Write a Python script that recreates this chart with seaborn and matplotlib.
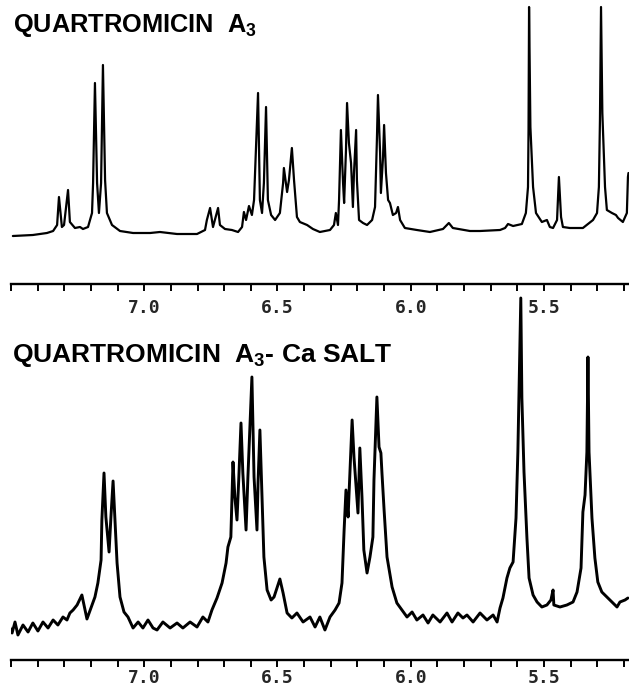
import matplotlib
matplotlib.use("Agg")
import matplotlib.pyplot as plt
import seaborn as sns

# ---------------- data (chemical shift in ppm, intensity in arbitrary units) ----------------
top_ppm = [7.493, 7.418, 7.365, 7.342, 7.327, 7.320, 7.309, 7.301, 7.286, 7.279,
           7.260, 7.241, 7.230, 7.211, 7.196, 7.192, 7.185, 7.177, 7.170, 7.162,
           7.155, 7.147, 7.140, 7.121, 7.091, 7.042, 6.978, 6.941, 6.877, 6.802,
           6.772, 6.765, 6.753, 6.742, 6.723, 6.716, 6.697, 6.671, 6.648, 6.633,
           6.626, 6.618, 6.607, 6.596, 6.588, 6.573, 6.566, 6.558, 6.551, 6.543,
           6.536, 6.524, 6.509, 6.491, 6.479, 6.476, 6.464, 6.457, 6.446, 6.438,
           6.427, 6.416, 6.389, 6.367, 6.341, 6.303, 6.288, 6.281, 6.273, 6.269,
           6.262, 6.254, 6.250, 6.243, 6.239, 6.232, 6.224, 6.217, 6.213, 6.205,
           6.202, 6.194, 6.179, 6.164, 6.145, 6.134, 6.127, 6.123, 6.115, 6.112,
           6.104, 6.100, 6.093, 6.085, 6.078, 6.067, 6.055, 6.048, 6.040, 6.022,
           5.977, 5.928, 5.879, 5.857, 5.842, 5.778, 5.740, 5.665, 5.646, 5.635,
           5.616, 5.583, 5.568, 5.560, 5.558, 5.556, 5.551, 5.541, 5.530, 5.508,
           5.489, 5.478, 5.466, 5.451, 5.444, 5.436, 5.429, 5.403, 5.354, 5.316,
           5.301, 5.294, 5.290, 5.286, 5.281, 5.271, 5.264, 5.245, 5.230, 5.222,
           5.204, 5.189, 5.185, 5.183]
top_int = [-1, 0, 2, 4, 10, 38, 8, 10, 45, 13,
           7, 8, 6, 8, 22, 52, 152, 52, 22, 52,
           170, 55, 22, 10, 4, 2, 2, 3, 1, 1,
           5, 15, 27, 8, 27, 10, 6, 5, 3, 8,
           23, 15, 29, 20, 35, 142, 35, 22, 52, 128,
           35, 20, 15, 22, 52, 67, 43, 55, 87, 55,
           18, 13, 10, 6, 3, 5, 10, 22, 10, 35,
           105, 52, 32, 85, 132, 92, 72, 28, 62, 105,
           55, 15, 12, 10, 15, 28, 95, 140, 82, 42,
           78, 110, 62, 35, 32, 20, 22, 28, 15, 7,
           5, 3, 6, 12, 7, 4, 4, 5, 7, 11,
           9, 11, 22, 48, 105, 228, 108, 48, 22, 13,
           15, 8, 7, 15, 58, 18, 8, 7, 7, 15,
           22, 48, 115, 228, 122, 48, 25, 22, 20, 17,
           13, 22, 58, 62]

bot_ppm = [7.505, 7.496, 7.485, 7.474, 7.455, 7.436, 7.418, 7.399, 7.380, 7.361,
           7.342, 7.324, 7.305, 7.290, 7.279, 7.267, 7.252, 7.234, 7.222, 7.215,
           7.200, 7.185, 7.174, 7.162, 7.159, 7.151, 7.144, 7.132, 7.125, 7.117,
           7.110, 7.102, 7.091, 7.076, 7.061, 7.042, 7.023, 7.005, 6.986, 6.967,
           6.952, 6.930, 6.903, 6.877, 6.855, 6.828, 6.802, 6.780, 6.761, 6.746,
           6.727, 6.708, 6.693, 6.686, 6.675, 6.667, 6.660, 6.652, 6.645, 6.637,
           6.630, 6.618, 6.611, 6.596, 6.588, 6.577, 6.573, 6.566, 6.558, 6.551,
           6.539, 6.524, 6.513, 6.491, 6.479, 6.464, 6.446, 6.427, 6.404, 6.378,
           6.359, 6.341, 6.322, 6.303, 6.284, 6.269, 6.258, 6.250, 6.243, 6.235,
           6.232, 6.220, 6.213, 6.202, 6.198, 6.191, 6.183, 6.176, 6.164, 6.153,
           6.142, 6.138, 6.127, 6.119, 6.112, 6.108, 6.100, 6.089, 6.070, 6.052,
           6.033, 6.014, 5.995, 5.977, 5.954, 5.935, 5.917, 5.890, 5.864, 5.845,
           5.823, 5.804, 5.789, 5.766, 5.740, 5.714, 5.691, 5.676, 5.665, 5.654,
           5.639, 5.628, 5.616, 5.605, 5.598, 5.594, 5.587, 5.583, 5.575, 5.564,
           5.556, 5.541, 5.526, 5.508, 5.489, 5.474, 5.466, 5.463, 5.440, 5.414,
           5.391, 5.376, 5.361, 5.354, 5.346, 5.339, 5.335, 5.331, 5.320, 5.309,
           5.298, 5.283, 5.264, 5.245, 5.226, 5.215, 5.196, 5.185]
bot_int = [-5, -11, 0, -13, -3, -10, -1, -9, 0, -6,
           2, -3, 5, 2, 9, 12, 17, 27, 12, 3,
           14, 25, 39, 62, 102, 149, 105, 70, 105, 141,
           102, 59, 25, 10, 5, -6, 0, -6, 2, -6,
           -8, 0, -6, -1, -6, 0, -5, 5, 0, 12,
           24, 39, 59, 75, 85, 160, 125, 102, 145, 199,
           149, 92, 145, 245, 145, 92, 139, 192, 125, 65,
           32, 22, 25, 43, 29, 9, 4, 9, 0, 5,
           -5, 5, -8, 5, 12, 19, 39, 92, 132, 105,
           125, 202, 165, 125, 109, 174, 125, 72, 49, 65,
           85, 142, 225, 175, 169, 149, 112, 65, 35, 19,
           12, 5, 10, 2, 7, -1, 7, 0, 9, 0,
           9, 4, 7, 0, 9, 2, 7, 0, 14, 24,
           44, 54, 60, 104, 170, 227, 324, 224, 150, 84,
           44, 27, 20, 15, 17, 22, 32, 17, 15, 17,
           20, 30, 54, 110, 127, 170, 265, 170, 104, 64,
           40, 30, 25, 20, 15, 20, 22, 24]

titles = ["QUARTROMICIN  A$_3$", "QUARTROMICIN  A$_3$- Ca SALT"]
tick_ppm = [7.5, 7.4, 7.3, 7.2, 7.1, 7.0, 6.9, 6.8, 6.7, 6.6, 6.5, 6.4,
            6.3, 6.2, 6.1, 6.0, 5.9, 5.8, 5.7, 5.6, 5.5, 5.4, 5.3, 5.2]
tick_text = ["", "", "", "", "", "7.0", "", "", "", "", "6.5", "",
             "", "", "", "6.0", "", "", "", "", "5.5", "", "", ""]

# ---------------- styling ----------------
sns.set_style("white")
plt.rcParams["font.family"] = ["Liberation Sans", "DejaVu Sans"]
plt.rcParams["mathtext.fontset"] = "custom"
plt.rcParams["mathtext.rm"] = "Liberation Sans:bold"
plt.rcParams["mathtext.default"] = "rm"

W, H = 629, 695
fig = plt.figure(figsize=(W / 100, H / 100), dpi=100)
fig.patch.set_facecolor("white")

ax_top = fig.add_axes([11 / W, 1 - 284 / H, 618 / W, 284 / H])
ax_bot = fig.add_axes([11 / W, 1 - 660 / H, 618 / W, 370 / H])

sns.lineplot(x=top_ppm, y=top_int, ax=ax_top, color="black", linewidth=1.6,
             estimator=None, sort=False)
sns.lineplot(x=bot_ppm, y=bot_int, ax=ax_bot, color="black", linewidth=2.1,
             estimator=None, sort=False)

ax_top.set_ylim(-49, 235)
ax_bot.set_ylim(-38, 332)

for ax, pad in ((ax_top, 6.0), (ax_bot, 1.5)):
    ax.set_xlim(7.5, 5.181)
    ax.set_facecolor("none")
    for s in ("left", "right", "top"):
        ax.spines[s].set_visible(False)
    ax.spines["bottom"].set_linewidth(1.7)
    ax.spines["bottom"].set_color("black")
    ax.set_yticks([])
    ax.set_xticks(tick_ppm, tick_text)
    ax.tick_params(axis="x", direction="out", length=5, width=1.4,
                   color="black", pad=pad, bottom=True)
    for lab in ax.get_xticklabels():
        lab.set_fontfamily("DejaVu Sans Mono")
        lab.set_fontweight("bold")
        lab.set_fontsize(13)
    ax.set_xlabel("")
    ax.set_ylabel("")

fig.text(13 / W, 1 - 32 / H, titles[0], fontsize=18.3, fontweight="bold",
         ha="left", va="baseline", color="black")
fig.text(12 / W, 1 - 362 / H, titles[1], fontsize=19, fontweight="bold",
         ha="left", va="baseline", color="black")

fig.savefig("out.png", dpi=100, facecolor="white")
